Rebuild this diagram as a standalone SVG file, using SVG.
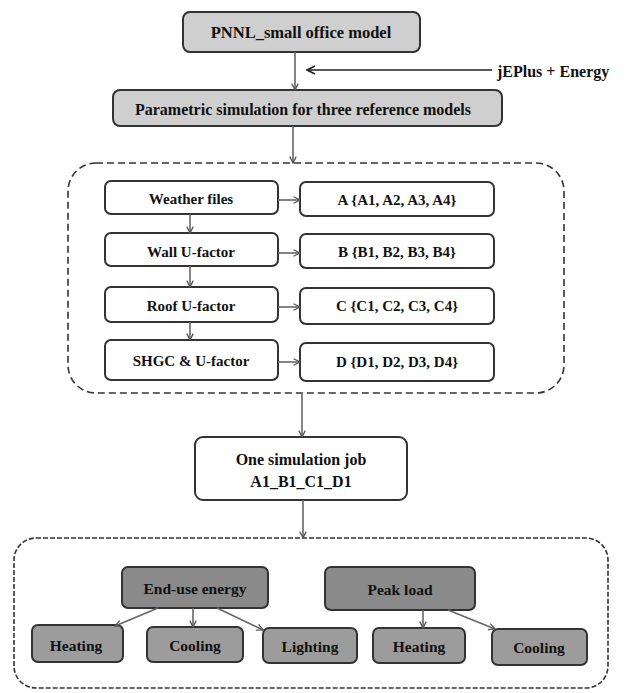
<svg xmlns="http://www.w3.org/2000/svg" width="627" height="693" viewBox="0 0 627 693">
<defs>
<marker id="ah" viewBox="0 0 10 10" refX="9" refY="5" markerWidth="8" markerHeight="8" orient="auto" markerUnits="userSpaceOnUse">
<path d="M1,1 L9,5 L1,9" fill="none" stroke="#555" stroke-width="1.6"/>
</marker>
<marker id="ahd" viewBox="0 0 10 10" refX="9" refY="5" markerWidth="10" markerHeight="10" orient="auto" markerUnits="userSpaceOnUse">
<path d="M1,1 L9,5 L1,9" fill="none" stroke="#222" stroke-width="1.6"/>
</marker>
<style>
text{font-family:"Liberation Serif","DejaVu Serif",serif;font-weight:bold;fill:#111;text-anchor:middle;dominant-baseline:central}
.top{fill:#cfcfcf;stroke:#333;stroke-width:2}
.w{fill:#fff;stroke:#333;stroke-width:2}
.dk{fill:#8a8a8a;stroke:#333;stroke-width:2}
.md{fill:#9c9c9c;stroke:#333;stroke-width:2}
.cn{fill:none;stroke:#666;stroke-width:1.6;marker-end:url(#ah)}
.cd{fill:none;stroke:#222;stroke-width:1.6;marker-end:url(#ahd)}
.grp{fill:none;stroke:#333;stroke-width:1.6}
</style>
</defs>
<g id="group-params"><rect class="grp" x="68" y="163" width="496" height="230" rx="28" stroke-dasharray="7,4"/></g>
<g id="group-outputs"><rect class="grp" x="14" y="538" width="594" height="150" rx="22" stroke-dasharray="5,2"/></g>

<g id="pnnl"><rect class="top" x="183" y="12" width="237" height="40" rx="7"/><text x="301" y="32" font-size="16.5">PNNL_small office model</text></g>
<g id="jeplus"><text x="497" y="71" font-size="16" style="text-anchor:start">jEPlus + Energy</text></g>
<g id="parametric"><rect class="top" x="113" y="90" width="389" height="36" rx="7"/><text x="303" y="109" font-size="16">Parametric simulation for three reference models</text></g>

<g id="weather"><rect class="w" x="105" y="181" width="173" height="33" rx="6"/><text x="191" y="199" font-size="15">Weather files</text></g>
<g id="wall"><rect class="w" x="105" y="233" width="173" height="33" rx="6"/><text x="191" y="252" font-size="15">Wall U-factor</text></g>
<g id="roof"><rect class="w" x="105" y="287" width="173" height="35" rx="6"/><text x="191" y="306" font-size="15">Roof U-factor</text></g>
<g id="shgc"><rect class="w" x="105" y="340" width="173" height="40" rx="6"/><text x="191" y="361" font-size="15">SHGC &amp; U-factor</text></g>
<g id="setA"><rect class="w" x="300" y="182" width="194" height="34" rx="6"/><text x="397" y="200" font-size="15">A {A1, A2, A3, A4}</text></g>
<g id="setB"><rect class="w" x="300" y="234" width="194" height="34" rx="6"/><text x="397" y="252" font-size="15">B {B1, B2, B3, B4}</text></g>
<g id="setC"><rect class="w" x="300" y="288" width="194" height="36" rx="6"/><text x="397" y="306" font-size="15">C {C1, C2, C3, C4}</text></g>
<g id="setD"><rect class="w" x="300" y="343" width="194" height="38" rx="6"/><text x="397" y="362" font-size="15">D {D1, D2, D3, D4}</text></g>

<g id="simjob"><rect class="w" x="195" y="437" width="212" height="63" rx="8"/><text x="301" y="459" font-size="16">One simulation job</text><text x="301" y="481" font-size="16">A1_B1_C1_D1</text></g>

<g id="enduse"><rect class="dk" x="122" y="567" width="146" height="41" rx="6"/><text x="195" y="588" font-size="15.5">End-use energy</text></g>
<g id="peak"><rect class="dk" x="325" y="567" width="150" height="43" rx="6"/><text x="400" y="589" font-size="15.5">Peak load</text></g>
<g id="heating1"><rect class="md" x="32" y="625" width="91" height="37" rx="6"/><text x="76" y="645" font-size="15.5">Heating</text></g>
<g id="cooling1"><rect class="md" x="147" y="627" width="96" height="35" rx="6"/><text x="195" y="645" font-size="15.5">Cooling</text></g>
<g id="lighting"><rect class="md" x="263" y="628" width="94" height="35" rx="6"/><text x="310" y="646" font-size="15.5">Lighting</text></g>
<g id="heating2"><rect class="md" x="373" y="628" width="92" height="35" rx="6"/><text x="419" y="646" font-size="15.5">Heating</text></g>
<g id="cooling2"><rect class="md" x="492" y="629" width="95" height="36" rx="6"/><text x="539" y="647" font-size="15.5">Cooling</text></g>

<g id="connectors">
<line class="cn" x1="295" y1="52" x2="295" y2="90"/>
<line class="cd" x1="492" y1="70" x2="307" y2="70"/>
<line class="cn" x1="293" y1="126" x2="293" y2="163"/>
<line class="cn" x1="190" y1="214" x2="190" y2="233"/>
<line class="cn" x1="190" y1="266" x2="190" y2="287"/>
<line class="cn" x1="190" y1="322" x2="190" y2="340"/>
<line class="cn" x1="278" y1="200" x2="300" y2="200"/>
<line class="cn" x1="278" y1="253" x2="300" y2="253"/>
<line class="cn" x1="278" y1="307" x2="300" y2="307"/>
<line class="cn" x1="278" y1="362" x2="300" y2="362"/>
<line class="cn" x1="302" y1="393" x2="302" y2="437"/>
<line class="cn" x1="303" y1="500" x2="303" y2="538"/>
<line class="cn" x1="158" y1="608" x2="115" y2="626"/>
<line class="cn" x1="193" y1="608" x2="193" y2="627"/>
<line class="cn" x1="217" y1="608" x2="263" y2="630"/>
<line class="cn" x1="423" y1="610" x2="423" y2="628"/>
<line class="cn" x1="448" y1="610" x2="495" y2="629"/>
</g>
</svg>
